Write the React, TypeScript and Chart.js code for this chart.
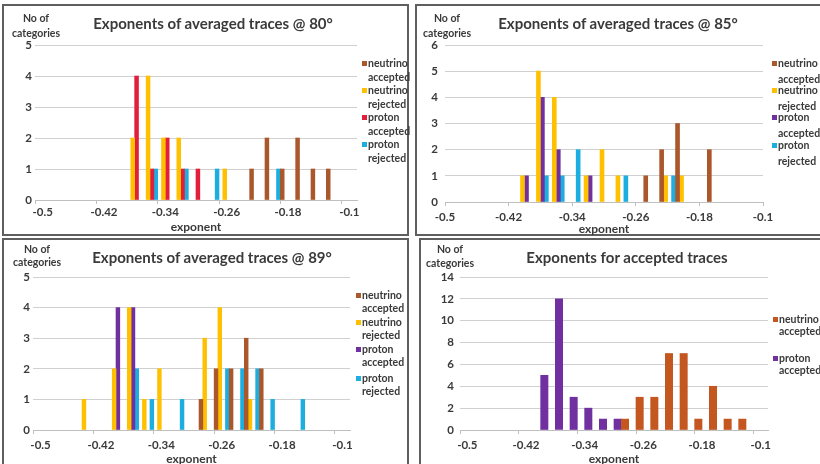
import React, { useEffect, useRef } from 'react';
import { Chart, registerables } from 'chart.js';

Chart.register(...registerables);

// ---------- data ----------
const exponentBins = [
  '-0.5', '-0.48', '-0.46', '-0.44', '-0.42', '-0.4', '-0.38', '-0.36', '-0.34', '-0.32', '-0.3',
  '-0.28', '-0.26', '-0.24', '-0.22', '-0.2', '-0.18', '-0.16', '-0.14', '-0.12', '-0.1',
];
const shownTicks = ['-0.5', '-0.42', '-0.34', '-0.26', '-0.18', '-0.1'];

const neutrinoAccepted80 = [0, 0, 0, 0, 0, 0, 0, 0, 0, 0, 0, 0, 0, 0, 1, 2, 1, 2, 1, 1, 0];
const neutrinoRejected80 = [0, 0, 0, 0, 0, 0, 2, 4, 2, 2, 0, 0, 1, 0, 0, 0, 0, 0, 0, 0, 0];
const protonAccepted80 = [0, 0, 0, 0, 0, 0, 4, 1, 2, 1, 1, 0, 0, 0, 0, 0, 0, 0, 0, 0, 0];
const protonRejected80 = [0, 0, 0, 0, 0, 0, 0, 1, 0, 1, 0, 1, 0, 0, 0, 1, 0, 0, 0, 0, 0];

const neutrinoAccepted85 = [0, 0, 0, 0, 0, 0, 0, 0, 0, 0, 0, 0, 0, 1, 2, 3, 0, 2, 0, 0, 0];
const neutrinoRejected85 = [0, 0, 0, 0, 0, 1, 5, 4, 0, 1, 2, 1, 0, 0, 1, 1, 0, 0, 0, 0, 0];
const protonAccepted85 = [0, 0, 0, 0, 0, 1, 4, 2, 0, 1, 0, 0, 0, 0, 0, 0, 0, 0, 0, 0, 0];
const protonRejected85 = [0, 0, 0, 0, 0, 0, 1, 1, 2, 0, 0, 1, 0, 0, 1, 0, 0, 0, 0, 0, 0];

const neutrinoAccepted89 = [0, 0, 0, 0, 0, 0, 0, 0, 0, 0, 0, 1, 2, 2, 3, 2, 0, 0, 0, 0, 0];
const neutrinoRejected89 = [0, 0, 0, 1, 0, 2, 4, 1, 2, 0, 0, 3, 4, 0, 1, 0, 0, 0, 0, 0, 0];
const protonAccepted89 = [0, 0, 0, 0, 0, 4, 4, 0, 0, 0, 0, 0, 0, 0, 0, 0, 0, 0, 0, 0, 0];
const protonRejected89 = [0, 0, 0, 0, 0, 0, 2, 1, 0, 1, 0, 0, 2, 2, 2, 1, 0, 1, 0, 0, 0];

const neutrinoAcceptedAll = [0, 0, 0, 0, 0, 0, 0, 0, 0, 0, 0, 1, 3, 3, 7, 7, 1, 4, 1, 1, 0];
const protonAcceptedAll = [0, 0, 0, 0, 0, 5, 12, 3, 2, 1, 1, 0, 0, 0, 0, 0, 0, 0, 0, 0, 0];

// ---------- styles ----------
const BROWN = '#A9572B';
const YELLOW = '#FFC000';
const RED = '#E31D3C';
const BLUE = '#1DAEE0';
const PURPLE = '#7030A0';
const ORANGE = '#C4561F';
const TEXT = '#3a3a3a';
const FONT = 'Lato, "Open Sans", sans-serif';

type Series = { name: string[]; data: number[]; color: string };
type PanelSpec = {
  title: string;
  box: { l: number; t: number; w: number; h: number };
  plot: { l: number; r: number; t: number; b: number };
  tickRight: number;
  labelY: number;
  expY: number;
  yMax: number;
  yStep: number;
  offset: boolean;
  titlePos: { x: number; y: number };
  noOf: { x: number; y1: number; y2: number };
  legend: { x: number; ys: number[]; gap: number };
  series: Series[];
};

const panels: PanelSpec[] = [
  {
    title: 'Exponents of averaged traces @ 80°',
    box: { l: 2, t: 4, w: 407, h: 232 },
    plot: { l: 35, r: 357, t: 45, b: 200 },
    tickRight: 32,
    labelY: 212,
    expY: 227,
    yMax: 5,
    yStep: 1,
    offset: true,
    titlePos: { x: 213, y: 23 },
    noOf: { x: 36, y1: 17.5, y2: 32.5 },
    legend: { x: 362, ys: [63, 90, 117, 144], gap: 14 },
    series: [
      { name: ['neutrino', 'accepted'], data: neutrinoAccepted80, color: BROWN },
      { name: ['neutrino', 'rejected'], data: neutrinoRejected80, color: YELLOW },
      { name: ['proton', 'accepted'], data: protonAccepted80, color: RED },
      { name: ['proton', 'rejected'], data: protonRejected80, color: BLUE },
    ],
  },
  {
    title: 'Exponents of averaged traces @ 85°',
    box: { l: 415, t: 4, w: 410, h: 232 },
    plot: { l: 445, r: 763, t: 45, b: 202 },
    tickRight: 438,
    labelY: 217,
    expY: 229,
    yMax: 6,
    yStep: 1,
    offset: false,
    titlePos: { x: 618, y: 22.5 },
    noOf: { x: 447, y1: 17.5, y2: 33 },
    legend: { x: 772, ys: [63, 90, 117, 145], gap: 16 },
    series: [
      { name: ['neutrino', 'accepted'], data: neutrinoAccepted85, color: BROWN },
      { name: ['neutrino', 'rejected'], data: neutrinoRejected85, color: YELLOW },
      { name: ['proton', 'accepted'], data: protonAccepted85, color: PURPLE },
      { name: ['proton', 'rejected'], data: protonRejected85, color: BLUE },
    ],
  },
  {
    title: 'Exponents of averaged traces @ 89°',
    box: { l: 2, t: 238, w: 407, h: 232 },
    plot: { l: 33, r: 350, t: 277, b: 430 },
    tickRight: 30,
    labelY: 445,
    expY: 459,
    yMax: 5,
    yStep: 1,
    offset: true,
    titlePos: { x: 212, y: 257 },
    noOf: { x: 37, y1: 249, y2: 262 },
    legend: { x: 356, ys: [295, 322, 349, 378], gap: 13 },
    series: [
      { name: ['neutrino', 'accepted'], data: neutrinoAccepted89, color: BROWN },
      { name: ['neutrino', 'rejected'], data: neutrinoRejected89, color: YELLOW },
      { name: ['proton', 'accepted'], data: protonAccepted89, color: PURPLE },
      { name: ['proton', 'rejected'], data: protonRejected89, color: BLUE },
    ],
  },
  {
    title: 'Exponents for accepted traces',
    box: { l: 419, t: 238, w: 410, h: 232 },
    plot: { l: 460, r: 768, t: 277, b: 430 },
    tickRight: 454,
    labelY: 445,
    expY: 459,
    yMax: 14,
    yStep: 2,
    offset: true,
    titlePos: { x: 627, y: 257 },
    noOf: { x: 450, y1: 249, y2: 263 },
    legend: { x: 773, ys: [319, 358], gap: 12 },
    series: [
      { name: ['neutrino', 'accepted'], data: neutrinoAcceptedAll, color: ORANGE },
      { name: ['proton', 'accepted'], data: protonAcceptedAll, color: PURPLE },
    ],
  },
];

const W = 820;
const H = 464;
const Y_W = 30;
const TICK_FONT = { family: FONT, size: 11.5, weight: 'bold' as const };
const EXP_FONT = { family: FONT, size: 12, weight: 'bold' as const };

function makeConfig(p: PanelSpec): any {
  const expLine = EXP_FONT.size * 1.2;
  const xBottom = p.expY + expLine / 2;
  const tl = 4;
  const labelPad = p.labelY - p.plot.b - tl - (TICK_FONT.size * 1.2) / 2;
  return {
    type: 'bar',
    data: {
      labels: exponentBins,
      datasets: p.series.map((s) => ({
        label: s.name.join(' '),
        data: s.data.map((v) => (v === 0 ? null : v)),
        backgroundColor: s.color,
        borderWidth: 0,
        categoryPercentage: 1,
        barPercentage: 1,
      })),
    },
    options: {
      responsive: false,
      animation: false,
      devicePixelRatio: 1,
      layout: {
        padding: {
          left: p.plot.l - Y_W,
          right: W - p.plot.r,
          top: p.plot.t,
          bottom: H - xBottom,
        },
      },
      plugins: {
        legend: { display: false },
        title: { display: false },
        tooltip: { enabled: false },
      },
      scales: {
        x: {
          type: 'category',
          offset: p.offset,
          grid: {
            offset: p.offset,
            drawOnChartArea: false,
            drawTicks: true,
            tickLength: tl,
            color: (c: any) => (c.index % 4 === 0 ? '#bfbfbf' : 'rgba(0,0,0,0)'),
          },
          border: { display: true, color: '#bfbfbf' },
          ticks: {
            autoSkip: false,
            maxRotation: 0,
            minRotation: 0,
            padding: labelPad,
            color: TEXT,
            font: TICK_FONT,
            callback: (_v: any, i: number) => (shownTicks.includes(exponentBins[i]) ? exponentBins[i] : ''),
          },
          title: { display: true, text: 'exponent', color: TEXT, font: EXP_FONT, padding: 0 },
          afterFit: (s: any) => {
            s.height = xBottom - p.plot.b;
          },
        },
        y: {
          min: 0,
          max: p.yMax,
          ticks: { stepSize: p.yStep, padding: p.plot.l - p.tickRight, color: TEXT, font: TICK_FONT },
          grid: { color: '#d0d0d0', drawTicks: false },
          border: { display: false },
          afterFit: (s: any) => {
            s.width = Y_W;
          },
        },
      },
    },
  };
}

function PanelChart({ spec }: { spec: PanelSpec }) {
  const ref = useRef<HTMLCanvasElement>(null);
  useEffect(() => {
    if (!ref.current) return;
    const chart = new Chart(ref.current, makeConfig(spec));
    return () => chart.destroy();
  }, [spec]);
  return (
    <canvas
      ref={ref}
      width={W}
      height={H}
      style={{ position: 'absolute', left: 0, top: 0, width: W, height: H }}
    />
  );
}

const textBase: React.CSSProperties = {
  position: 'absolute',
  whiteSpace: 'nowrap',
  fontFamily: FONT,
  fontWeight: 700,
  color: TEXT,
  transform: 'translate(-50%, -50%)',
  lineHeight: 1,
};

function PanelText({ spec }: { spec: PanelSpec }) {
  return (
    <>
      <div style={{ ...textBase, left: spec.titlePos.x, top: spec.titlePos.y, fontSize: 15 }}>{spec.title}</div>
      <div style={{ ...textBase, left: spec.noOf.x, top: spec.noOf.y1, fontSize: 10.5 }}>No of</div>
      <div style={{ ...textBase, left: spec.noOf.x, top: spec.noOf.y2, fontSize: 10.5 }}>categories</div>
      {spec.series.map((s, i) => {
        const y = spec.legend.ys[i];
        return (
          <React.Fragment key={i}>
            <div
              style={{
                position: 'absolute',
                left: spec.legend.x,
                top: y - 2.5,
                width: 5,
                height: 5,
                background: s.color,
              }}
            />
            {s.name.map((line, j) => (
              <div
                key={j}
                style={{
                  ...textBase,
                  transform: 'translate(0, -50%)',
                  left: spec.legend.x + 6,
                  top: y + j * spec.legend.gap,
                  fontSize: 10.5,
                }}
              >
                {line}
              </div>
            ))}
          </React.Fragment>
        );
      })}
    </>
  );
}

export default function App() {
  return (
    <div
      style={{
        position: 'fixed',
        left: 0,
        top: 0,
        width: W,
        height: H,
        overflow: 'hidden',
        background: '#ffffff',
      }}
    >
      {panels.map((p, i) => (
        <div
          key={'b' + i}
          style={{
            position: 'absolute',
            left: p.box.l,
            top: p.box.t,
            width: p.box.w,
            height: p.box.h,
            boxSizing: 'border-box',
            border: '2px solid #5f5f5f',
            background: '#ffffff',
          }}
        />
      ))}
      {panels.map((p, i) => (
        <PanelChart key={'c' + i} spec={p} />
      ))}
      {panels.map((p, i) => (
        <PanelText key={'t' + i} spec={p} />
      ))}
    </div>
  );
}
